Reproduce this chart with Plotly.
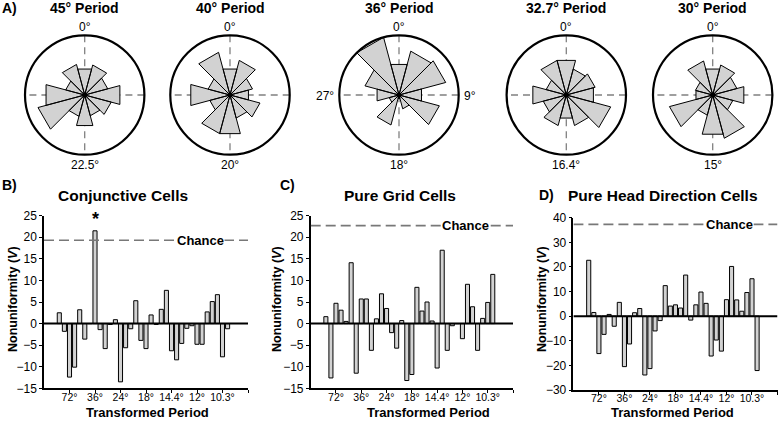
import plotly.graph_objects as go

W, H = 779, 423

# ---------------- data ----------------
rose_periods = ["45°", "40°", "36°", "32.7°", "30°"]
rose_bottom_labels = ["22.5°", "20°", "18°", "16.4°", "15°"]
rose_bin_centers = [0, 30, 60, 90, 120, 150, 180, 210, 240, 270, 300, 330]
rose_45 = [0.45, 0.52, 0.40, 0.61, 0.46, 0.36, 0.53, 0.37, 0.81, 0.67, 0.33, 0.53]
rose_40 = [0.45, 0.60, 0.39, 0.32, 0.52, 0.40, 0.67, 0.67, 0.35, 0.68, 0.38, 0.74]
rose_36 = [0.53, 0.76, 0.81, 0.39, 0.70, 0.24, 0.06, 0.52, 0.17, 0.38, 0.59, 1.00]
rose_327 = [0.60, 0.45, 0.50, 0.47, 0.77, 0.53, 0.40, 0.53, 0.40, 0.58, 0.35, 0.60]
rose_30 = [0.45, 0.52, 0.42, 0.54, 0.35, 0.75, 0.68, 0.35, 0.75, 0.29, 0.30, 0.59]
rose_radii = [rose_45, rose_40, rose_36, rose_327, rose_30]

k_values = list(range(3, 37))
conjunctive = [2.5, -1.8, -12.4, -10.1, 3.2, -3.6, 0.0, 21.5, -1.4, -5.8, -0.2, 0.9,
               -13.5, -5.6, -1.2, 5.3, -3.9, -5.8, 2.0, -0.2, 3.3, 7.7, -6.3, -8.4,
               -4.6, -1.1, -0.5, -4.8, -4.8, 2.7, 5.1, 6.7, -7.7, -1.2]
pure_grid = [1.6, -12.6, 4.7, 3.1, 0.5, 14.1, -11.5, 5.7, 5.7, -6.2, 1.1, 6.9,
             3.5, -2.1, -5.7, 0.7, -13.2, -11.8, 8.4, 2.9, 5.0, 0.6, -10.3, 17.0,
             -6.2, -0.5, 0.0, -3.5, 9.1, 3.9, -6.2, 1.2, 4.9, 11.4]
pure_hd = [22.7, 1.5, -15.2, -7.4, 0.7, -4.1, 5.6, -20.5, -11.3, 1.4, 3.1, -23.9,
           -21.3, -6.0, -1.8, 12.4, 4.1, 4.6, 3.3, 16.7, -1.6, 4.6, 9.8, 5.2,
           -16.2, -9.7, -14.2, 6.7, 20.2, 6.6, 2.0, 9.6, 15.2, -22.1]
chance_levels = [19.3, 22.7, 37.3]
x_tickvals = [5, 10, 15, 20, 25, 30, 35, 40]
x_ticktext = ["72°", "36°", "24°", "18°", "14.4°", "12°", "10.3°", ""]

FONT = "Arial, Liberation Sans, sans-serif"
FILL = "rgb(210,210,210)"


def px(x):
    return x / W


def py(y):
    return 1 - y / H


def label(text, x, y, size, xanchor="center", angle=0, xref="paper", yref="paper",
          bg=None):
    d = dict(text=text, x=x, y=y, xref=xref, yref=yref, showarrow=False,
             xanchor=xanchor, yanchor="middle", textangle=angle,
             font=dict(size=size, family=FONT, color="black"))
    if bg:
        d.update(bgcolor=bg, borderpad=0)
    return d


fig = go.Figure()
annotations = []
shapes = []

# ---------------- rose plots ----------------
rose_cx = [84.7, 230.0, 399.0, 566.3, 712.7]
rose_cy = 95.0
rose_R = 59.7
for i, radii in enumerate(rose_radii):
    pid = "polar" if i == 0 else f"polar{i+1}"
    for a in (0, 90):
        fig.add_trace(go.Scatterpolar(r=[1, 0, 1], theta=[a, a, a + 180], mode="lines",
                                      line=dict(color="rgb(128,128,128)", width=1.3,
                                                dash="7px,5px"),
                                      subplot=pid, showlegend=False, hoverinfo="skip"))
    rr, tt = [], []
    for c, r in zip(rose_bin_centers, radii):
        rr += [0, r, r, 0]
        tt += [c, c - 15, c + 15, c]
    fig.add_trace(go.Scatterpolar(r=rr, theta=tt, mode="lines", fill="toself",
                                  fillcolor=FILL, line=dict(color="black", width=1),
                                  subplot=pid, showlegend=False, hoverinfo="skip"))
    fig.add_trace(go.Scatterpolar(r=[0], theta=[0], mode="markers",
                                  marker=dict(color="black", size=5),
                                  subplot=pid, showlegend=False, hoverinfo="skip"))
    cx = rose_cx[i]
    fig.layout[pid] = dict(
        domain=dict(x=[px(cx - rose_R), px(cx + rose_R)],
                    y=[py(rose_cy + rose_R), py(rose_cy - rose_R)]),
        bgcolor="white",
        radialaxis=dict(range=[0, 1], visible=False),
        angularaxis=dict(rotation=90, direction="clockwise", showgrid=False,
                         showticklabels=False, ticks="", showline=True,
                         linecolor="black", linewidth=2.2),
    )
    annotations.append(label(f"<b>{rose_periods[i]} Period</b>", px(cx), py(8), 14))
    annotations.append(label("0°", px(cx), py(27), 12))
    annotations.append(label(rose_bottom_labels[i], px(cx), py(165), 12))
    if rose_periods[i] == "36°":
        annotations.append(label("27°", px(324.5), py(96), 12))
        annotations.append(label("9°", px(469.7), py(96), 12))

annotations.append(label("<b>A)</b>", 0, py(8), 14, xanchor="left"))

# ---------------- bar charts ----------------
bar_panels = [
    dict(data=conjunctive, title="Conjunctive Cells", letter="B)", x0=44, x1=248,
         y0=215.7, y1=388.3, yr=[-15, 25], dt=5, title_x=123, letter_y=185, letter_x=0,
         ytitle_x=13, xtitle_x=147, chance=chance_levels[0]),
    dict(data=pure_grid, title="Pure Grid Cells", letter="C)", x0=310.7, x1=513,
         y0=215.7, y1=388.3, yr=[-15, 25], dt=5, title_x=400, letter_y=185, letter_x=278,
         ytitle_x=277, xtitle_x=428, chance=chance_levels[1]),
    dict(data=pure_hd, title="Pure Head Direction Cells", letter="D)", x0=573.4, x1=777.5,
         y0=217.7, y1=390, yr=[-30, 40], dt=10, title_x=663, letter_y=195, letter_x=537,
         ytitle_x=542, xtitle_x=672, chance=chance_levels[2]),
]

for j, p in enumerate(bar_panels):
    xa = "x" if j == 0 else f"x{j+1}"
    ya = "y" if j == 0 else f"y{j+1}"
    fig.add_trace(go.Bar(x=k_values, y=p["data"], width=0.8, marker=dict(
        color=FILL, line=dict(color="black", width=1)), xaxis=xa, yaxis=ya,
        showlegend=False, hoverinfo="skip"))
    xname = "xaxis" if j == 0 else f"xaxis{j+1}"
    yname = "yaxis" if j == 0 else f"yaxis{j+1}"
    fig.layout[xname] = dict(domain=[px(p["x0"]), px(p["x1"])], range=[0, 40],
                             anchor=ya, tickvals=x_tickvals, ticktext=x_ticktext,
                             tickangle=0, automargin=False, ticklabelstandoff=-5,
                             showline=True, linecolor="black", linewidth=1.5,
                             ticks="outside", ticklen=3, tickwidth=1.2, tickcolor="black",
                             showgrid=False, zeroline=False,
                             tickfont=dict(size=10.5, family=FONT, color="black"))
    lo, hi = p["yr"]
    fig.layout[yname] = dict(domain=[py(p["y1"]), py(p["y0"])], range=[lo, hi],
                             anchor=xa, tickvals=list(range(lo, hi + 1, p["dt"])),
                             automargin=False,
                             showline=True, linecolor="black", linewidth=1.5,
                             ticks="outside", ticklen=3, tickwidth=1.2, tickcolor="black",
                             showgrid=False, zeroline=False,
                             tickfont=dict(size=12, family=FONT, color="black"))
    shapes.append(dict(type="line", xref=xa, yref=ya, x0=0, x1=40, y0=0, y1=0,
                       line=dict(color="black", width=2), layer="above"))
    shapes.append(dict(type="line", xref=xa, yref=ya, x0=0, x1=40, y0=p["chance"],
                       y1=p["chance"], line=dict(color="rgb(120,120,120)", width=1.6,
                                                 dash="10px,5px"), layer="above"))
    annotations.append(label("<b>Chance</b>", 30.6, p["chance"], 13, xref=xa, yref=ya,
                             bg="white"))
    annotations.append(label(f"<b>{p['title']}</b>", px(p["title_x"]), py(195), 15.5))
    annotations.append(label(f"<b>{p['letter']}</b>", px(p["letter_x"]), py(p["letter_y"]),
                             14, xanchor="left"))
    annotations.append(label("<b>Nonuniformity (<i>V</i>)</b>", px(p["ytitle_x"]), py(299),
                             12.5, angle=-90))
    annotations.append(label("<b>Transformed Period</b>", px(p["xtitle_x"]), py(412), 13))

annotations.append(label("<b>*</b>", 10, 24.2, 18, xref="x", yref="y"))

fig.update_layout(width=W, height=H, margin=dict(l=0, r=0, t=0, b=0, autoexpand=False),
                  paper_bgcolor="white", plot_bgcolor="white",
                  annotations=annotations, shapes=shapes, bargap=0.2,
                  font=dict(family=FONT, color="black"))

fig.write_html("out.html", config={"displayModeBar": False},
               post_script="document.body.style.margin='0';document.body.style.padding='0';")
